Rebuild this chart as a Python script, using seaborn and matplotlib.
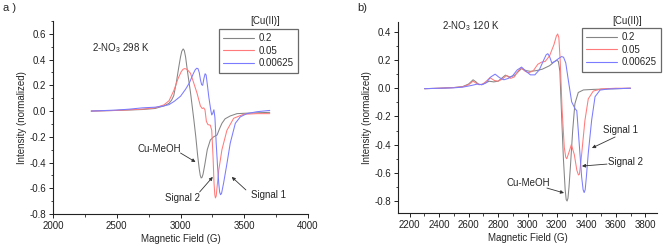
import numpy as np
import pandas as pd
import matplotlib
matplotlib.use("Agg")
import matplotlib.pyplot as plt
import seaborn as sns
from matplotlib.ticker import MultipleLocator
from matplotlib.lines import Line2D

# ---------------- data: panel a (298 K) ----------------
a_g_02 = [2300, 2500, 2700, 2800, 2870, 2910, 2930, 2947, 2967, 2987, 3000, 3010, 3021, 3030, 3040,
          3053, 3079, 3105, 3120, 3135, 3147, 3155, 3162, 3169, 3177, 3190, 3210, 3234, 3260, 3287,
          3305, 3325, 3350, 3390, 3443, 3550, 3700]
a_i_02 = [0.0, 0.005, 0.012, 0.02, 0.04, 0.06, 0.085, 0.12, 0.22, 0.345, 0.42, 0.465, 0.483, 0.47, 0.42,
          0.32, 0.14, -0.07, -0.2, -0.35, -0.45, -0.5, -0.52, -0.515, -0.49, -0.42, -0.3, -0.225, -0.2, -0.186,
          -0.14, -0.095, -0.06, -0.038, -0.02, -0.015, -0.01]

a_g_005 = [2300, 2500, 2700, 2800, 2870, 2910, 2948, 2980, 3005, 3020, 3033, 3045, 3060, 3078, 3100,
           3130, 3156, 3170, 3182, 3192, 3203, 3215, 3234, 3245, 3255, 3263, 3269, 3274, 3280, 3288,
           3300, 3325, 3364, 3417, 3495, 3600, 3700]
a_i_005 = [0.0, 0.005, 0.015, 0.025, 0.048, 0.08, 0.16, 0.25, 0.305, 0.325, 0.33, 0.327, 0.315, 0.294, 0.23,
           0.138, 0.04, 0.02, 0.025, 0.01, -0.08, -0.105, -0.11, -0.15, -0.35, -0.56, -0.65, -0.675, -0.66, -0.58,
           -0.46, -0.3, -0.15, -0.056, -0.025, -0.02, -0.02]

a_g_0006 = [2300, 2500, 2600, 2700, 2800, 2870, 2910, 2950, 3000, 3040, 3070, 3100, 3115, 3127, 3137,
            3147, 3157, 3166, 3174, 3184, 3193, 3201, 3210, 3222, 3237, 3245, 3252, 3262, 3270, 3280,
            3290, 3300, 3307, 3314, 3322, 3338, 3364, 3390, 3430, 3469, 3520, 3600, 3650, 3700]
a_i_0006 = [0.0, 0.008, 0.015, 0.025, 0.03, 0.04, 0.05, 0.075, 0.115, 0.17, 0.22, 0.29, 0.32, 0.333, 0.33,
            0.3, 0.24, 0.205, 0.2, 0.255, 0.29, 0.28, 0.21, 0.11, 0.01, -0.03, -0.02, 0.01, -0.05, -0.25,
            -0.42, -0.56, -0.63, -0.65, -0.64, -0.56, -0.41, -0.25, -0.095, -0.045, -0.02, -0.005, 0.0, 0.005]

# ---------------- data: panel b (120 K) ----------------
b_g_02 = [2300, 2400, 2500, 2560, 2600, 2630, 2650, 2670, 2700, 2740, 2770, 2800, 2850, 2880, 2910,
          2960, 2990, 3020, 3060, 3100, 3150, 3185, 3200, 3210, 3220, 3232, 3244, 3256, 3263, 3269,
          3275, 3282, 3292, 3307, 3322, 3345, 3380, 3450, 3550, 3700]
b_i_02 = [-0.003, 0.0, 0.005, 0.012, 0.03, 0.06, 0.045, 0.025, 0.03, 0.05, 0.045, 0.05, 0.093, 0.08, 0.09,
          0.14, 0.125, 0.12, 0.125, 0.135, 0.16, 0.19, 0.198, 0.19, 0.12, -0.2, -0.5, -0.72, -0.79, -0.8,
          -0.78, -0.7, -0.55, -0.3, -0.11, -0.03, -0.012, -0.008, -0.005, 0.0]

b_g_005 = [2300, 2400, 2500, 2560, 2600, 2630, 2660, 2690, 2720, 2745, 2775, 2800, 2830, 2855, 2885,
           2910, 2935, 2955, 2985, 3010, 3040, 3070, 3095, 3120, 3150, 3180, 3196, 3205, 3213, 3222,
           3235, 3250, 3260, 3267, 3280, 3298, 3318, 3335, 3346, 3353, 3365, 3390, 3413, 3447, 3500,
           3600, 3700]
b_i_005 = [-0.003, 0.0, 0.005, 0.01, 0.025, 0.05, 0.03, 0.025, 0.05, 0.075, 0.055, 0.05, 0.065, 0.09, 0.07,
           0.08, 0.12, 0.145, 0.12, 0.11, 0.125, 0.17, 0.185, 0.19, 0.23, 0.31, 0.37, 0.385, 0.36, 0.2,
           -0.15, -0.42, -0.49, -0.5, -0.46, -0.40, -0.47, -0.58, -0.615, -0.61, -0.5, -0.23, -0.075, -0.02, -0.005,
           0.0, 0.0]

b_g_0006 = [2300, 2400, 2500, 2560, 2620, 2660, 2690, 2720, 2750, 2780, 2810, 2840, 2870, 2900, 2930,
            2960, 2990, 3020, 3050, 3080, 3110, 3127, 3138, 3150, 3165, 3185, 3210, 3232, 3245, 3260,
            3277, 3300, 3322, 3335, 3345, 3356, 3368, 3378, 3385, 3392, 3400, 3413, 3436, 3459, 3493,
            3550, 3700]
b_i_0006 = [-0.003, 0.0, 0.003, 0.008, 0.02, 0.03, 0.025, 0.04, 0.08, 0.1, 0.075, 0.06, 0.07, 0.09, 0.13,
            0.15, 0.12, 0.095, 0.095, 0.13, 0.2, 0.238, 0.245, 0.225, 0.18, 0.19, 0.21, 0.225, 0.22, 0.18,
            0.06, -0.096, -0.143, -0.16, -0.3, -0.46, -0.63, -0.72, -0.74, -0.72, -0.63, -0.46, -0.226, -0.06, -0.013,
            -0.005, 0.0]

conc_labels = ["0.2", "0.05", "0.00625"]
colors = ["#858585", "#ff7b7b", "#7b7bff"]


def frame(series):
    rows = []
    for lab, (g, i) in zip(conc_labels, series):
        for gg, ii in zip(g, i):
            rows.append((gg, ii, lab))
    return pd.DataFrame(rows, columns=["field", "intensity", "conc"])


df_a = frame([(a_g_02, a_i_02), (a_g_005, a_i_005), (a_g_0006, a_i_0006)])
df_b = frame([(b_g_02, b_i_02), (b_g_005, b_i_005), (b_g_0006, b_i_0006)])

sns.set_style("ticks")
plt.rcParams["font.family"] = ["Liberation Sans", "DejaVu Sans"]
plt.rcParams["mathtext.fontset"] = "custom"
plt.rcParams["mathtext.rm"] = "Liberation Sans"

fig = plt.figure(figsize=(6.63, 2.47), dpi=100)
W, H = 663, 247


def add_ax(x0, y0, x1, y1):
    return fig.add_axes([x0 / W, 1 - y1 / H, (x1 - x0) / W, (y1 - y0) / H])


ax_a = add_ax(53, 21, 308, 214)
ax_b = add_ax(398, 22, 657, 213)

pal = dict(zip(conc_labels, colors))
for ax, df in [(ax_a, df_a), (ax_b, df_b)]:
    sns.lineplot(data=df, x="field", y="intensity", hue="conc", hue_order=conc_labels,
                 palette=pal, sort=False, estimator=None, linewidth=0.75, ax=ax, legend=False)
    sns.despine(ax=ax)
    for s in ["left", "bottom"]:
        ax.spines[s].set_linewidth(0.8)
        ax.spines[s].set_color("#222222")
    ax.tick_params(which="major", length=3, width=0.7, labelsize=7, pad=2, colors="#222222")
    ax.tick_params(which="minor", length=1.8, width=0.6, colors="#222222")
    ax.set_xlabel("Magnetic Field (G)", fontsize=7, labelpad=2)
    ax.set_ylabel("Intensity (normalized)", fontsize=7, labelpad=2)
    ax.patch.set_alpha(0)

ax_a.set_xlim(2000, 4000)
ax_a.set_ylim(-0.8, 0.7)
ax_a.xaxis.set_major_locator(MultipleLocator(500))
ax_a.xaxis.set_minor_locator(MultipleLocator(250))
ax_a.set_yticks([-0.8, -0.6, -0.4, -0.2, 0.0, 0.2, 0.4, 0.6])
ax_a.yaxis.set_minor_locator(MultipleLocator(0.1))

ax_b.set_xlim(2120, 3880)
ax_b.set_ylim(-0.885, 0.47)
ax_b.set_xticks(np.arange(2200, 3801, 200))
ax_b.xaxis.set_minor_locator(MultipleLocator(100))
ax_b.set_yticks([-0.8, -0.6, -0.4, -0.2, 0.0, 0.2, 0.4])
ax_b.yaxis.set_minor_locator(MultipleLocator(0.1))

for ax in (ax_a, ax_b):
    ax.yaxis.set_major_formatter(matplotlib.ticker.FuncFormatter(lambda v, p: f"{v:.1f}"))

# legends
handles = [Line2D([], [], color=c, lw=0.8) for c in colors]
for ax, (x0, y0) in [(ax_a, (219, 29)), (ax_b, (582, 28))]:
    leg = ax.legend(handles, conc_labels, loc="upper left",
                    bbox_to_anchor=(x0 / W, 1 - y0 / H), bbox_transform=fig.transFigure,
                    fontsize=7, frameon=True, fancybox=False, handlelength=3.2,
                    handletextpad=0.4, borderpad=0.45, labelspacing=0.25, borderaxespad=0)
    leg.get_frame().set_edgecolor("#444444")
    leg.get_frame().set_linewidth(0.9)

fig.text(265 / W, 1 - 21 / H, "[Cu(II)]", fontsize=7, ha="center", va="center")
fig.text(627 / W, 1 - 21 / H, "[Cu(II)]", fontsize=7, ha="center", va="center")

# sample labels
ax_a.text(2303, 0.49, "2-NO$_3$ 298 K", fontsize=7, va="center")
ax_b.text(2416, 0.441, "2-NO$_3$ 120 K", fontsize=7, va="center")

arw = dict(arrowstyle="-|>", color="#333333", lw=0.6, mutation_scale=5, shrinkA=0, shrinkB=0)
# panel a annotations
ax_a.annotate("", xy=(3118, -0.396), xytext=(3000, -0.326), arrowprops=arw)
ax_a.text(2834, -0.295, "Cu-MeOH", fontsize=7, ha="center", va="center")
ax_a.annotate("", xy=(3253, -0.512), xytext=(3150, -0.629), arrowprops=arw)
ax_a.text(3016, -0.676, "Signal 2", fontsize=7, ha="center", va="center")
ax_a.annotate("", xy=(3402, -0.512), xytext=(3513, -0.613), arrowprops=arw)
ax_a.text(3694, -0.652, "Signal 1", fontsize=7, ha="center", va="center")
# panel b annotations
ax_b.annotate("", xy=(3438, -0.424), xytext=(3595, -0.346), arrowprops=arw)
ax_b.text(3629, -0.296, "Signal 1", fontsize=7, ha="center", va="center")
ax_b.annotate("", xy=(3370, -0.552), xytext=(3540, -0.538), arrowprops=arw)
ax_b.text(3663, -0.523, "Signal 2", fontsize=7, ha="center", va="center")
ax_b.annotate("", xy=(3248, -0.743), xytext=(3132, -0.708), arrowprops=arw)
ax_b.text(3003, -0.672, "Cu-MeOH", fontsize=7, ha="center", va="center")

fig.text(3 / W, 1 - 8 / H, "a )", fontsize=8, ha="left", va="center")
fig.text(357 / W, 1 - 8 / H, "b)", fontsize=8, ha="left", va="center")

fig.savefig("out.png", dpi=100)
